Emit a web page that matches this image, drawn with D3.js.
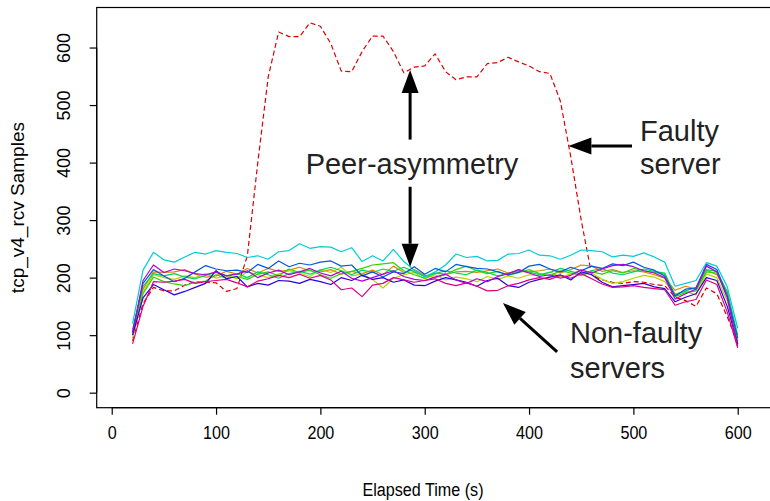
<!DOCTYPE html>
<html>
<head>
<meta charset="utf-8">
<script src="https://cdn.jsdelivr.net/npm/d3@7"></script>
<style>
body { margin: 0; background: #fff; }
text { font-family: "Liberation Sans", Arial, Helvetica, sans-serif; }
</style>
</head>
<body>
<svg id="chart" width="770" height="501"></svg>
<script>
// elapsed time of each sample (s)
var times = [20,30,40,50,60,70,80,90,100,110,120,130,140,150,160,170,180,190,200,210,
	220,230,240,250,260,270,280,290,300,310,320,330,340,350,360,370,380,390,400,410,
	420,430,440,450,460,470,480,490,500,510,520,530,540,550,560,570,580,590,600];

// faulty server (red dashed)
var faulty = [90,155,183,177,177,187,193,192,191,176,181,238,400,549,627,619,619,643,637,607,
	559,558,593,620,620,593,556,566,568,589,558,544,549,549,572,574,583,575,568,558,
	555,507,410,300,205,196,192,190,193,192,188,186,166,160,150,182,172,132,85];

// non-faulty servers
var s_orange = [100,180,210,209,210,214,206,201,203,211,206,216,208,216,211,213,218,212,210,214,
	206,211,207,213,205,220,209,214,204,200,205,210,211,209,212,215,208,211,210,212,
	215,208,214,222,220,211,214,209,212,210,205,199,178,185,180,213,205,176,90];
var s_ygreen = [95,175,205,200,197,203,200,207,199,204,198,210,205,200,206,212,208,202,214,209,
	218,203,206,197,182,199,205,209,198,205,196,201,198,193,202,197,203,199,205,203,
	210,201,206,214,208,197,190,193,199,204,201,193,172,176,170,206,200,160,92];
var s_green = [100,172,201,193,189,186,192,194,205,199,202,197,206,210,203,215,209,213,205,199,
	207,211,216,222,224,226,212,205,199,208,206,214,220,212,207,211,204,209,214,207,
	203,212,208,204,210,206,212,208,216,212,209,206,167,174,177,210,208,170,90];
var s_spring = [110,185,207,203,207,201,198,204,209,203,207,200,210,205,199,207,211,206,213,218,
	212,205,213,209,215,211,218,210,203,207,212,208,205,213,209,203,207,213,210,205,
	209,216,211,206,212,216,208,205,210,215,211,208,170,177,183,214,211,175,100];
var s_cyan = [120,213,244,231,227,236,244,241,247,244,242,235,238,232,245,247,259,251,254,253,
	245,252,228,238,229,249,228,213,201,210,222,241,235,237,229,230,241,242,248,239,
	238,232,239,248,247,245,236,239,237,243,236,227,185,190,195,226,220,184,112];
var s_blue = [105,190,214,203,193,199,210,221,215,212,213,209,223,216,229,219,225,222,227,229,
	220,222,203,210,201,210,207,219,206,216,210,223,219,216,215,210,205,209,220,223,
	215,210,218,212,220,216,224,221,227,218,213,203,168,180,182,223,214,168,95];
var s_violet = [100,165,188,179,170,176,183,190,212,198,202,184,190,187,195,194,190,197,193,188,
	200,195,204,197,200,192,196,187,186,194,200,196,192,185,195,199,186,183,192,197,
	201,205,196,210,205,192,184,186,188,190,184,181,158,166,172,200,195,150,85];
var s_purple = [105,195,222,209,215,212,207,205,210,203,206,212,200,208,213,205,210,216,208,203,
	211,199,194,200,206,212,202,197,195,201,206,196,190,198,193,202,207,214,208,202,
	205,199,204,213,208,215,221,223,219,212,208,200,163,172,180,220,210,165,80];
var s_pink = [85,150,193,192,194,197,190,193,195,197,191,184,194,198,204,200,206,199,204,196,
	179,182,167,187,190,200,196,192,195,198,190,186,191,185,177,178,186,190,196,200,
	197,204,199,207,198,189,183,184,186,183,181,179,152,158,162,196,188,140,78];

var xTicks = [0,100,200,300,400,500,600];
var yTicks = [0,100,200,300,400,500,600];

var series = [
	{name:'faulty', values:faulty, color:'#dd0000', dash:'5,3'},
	{name:'orange', values:s_orange, color:'#dd8400'},
	{name:'ygreen', values:s_ygreen, color:'#b1d400'},
	{name:'green', values:s_green, color:'#2cd400'},
	{name:'spring', values:s_spring, color:'#00d458'},
	{name:'cyan', values:s_cyan, color:'#00cdd4'},
	{name:'blue', values:s_blue, color:'#0058dd'},
	{name:'violet', values:s_violet, color:'#2c00dd'},
	{name:'purple', values:s_purple, color:'#b100dd'},
	{name:'pink', values:s_pink, color:'#dd0084'}
];

var svg = d3.select('#chart');
var fontAxis = '"Liberation Sans", Arial, sans-serif';

var x = d3.scaleLinear().domain([-14.4,634.4]).range([96.7,773.6]);
var y = d3.scaleLinear().domain([-26.1,669.6]).range([407.7,7.5]);

var line = d3.line()
	.x((d,i) => x(times[i]))
	.y(d => y(d));

var g = svg.append('g');

series.forEach(function(s){
	g.append('path')
		.attr('d', line(s.values))
		.attr('fill','none')
		.attr('stroke', s.color)
		.attr('stroke-width', 1.2)
		.attr('stroke-dasharray', s.dash || null)
		.attr('stroke-linejoin','round');
});

// box
svg.append('rect')
	.attr('x', x(-14.4)).attr('y', y(669.6))
	.attr('width', x(634.4) - x(-14.4) + 5)
	.attr('height', y(-26.1) - y(669.6))
	.attr('fill','none').attr('stroke','#000').attr('stroke-width',1.2);

// axes
var xaxis = svg.append('g')
	.attr('transform', `translate(0,${y(-26.1)})`)
	.call(d3.axisBottom(x).tickValues(xTicks).tickSize(7).tickPadding(11).tickFormat(d3.format('d')));
xaxis.select('.domain').remove();
xaxis.append('line').attr('x1', x(0)).attr('x2', x(600)).attr('stroke','#000').attr('stroke-width',1.2);
xaxis.selectAll('.tick line').attr('stroke-width',1.2);
xaxis.selectAll('text').attr('font-size',19).attr('fill','#000')
	.attr('transform','scale(0.85,1)')
	.style('font-family', fontAxis);

var yaxis = svg.append('g')
	.attr('transform', `translate(${x(-14.4)},0)`)
	.call(d3.axisLeft(y).tickValues(yTicks).tickSize(7).tickFormat(d3.format('d')));
yaxis.select('.domain').remove();
yaxis.append('line').attr('y1', y(0)).attr('y2', y(600)).attr('stroke','#000').attr('stroke-width',1.2);
yaxis.selectAll('.tick line').attr('stroke-width',1.2);
yaxis.selectAll('text')
	.attr('x', 0).attr('dy', 0)
	.attr('transform', 'translate(-27,0) rotate(-90)')
	.attr('text-anchor','middle')
	.attr('font-size',18).attr('fill','#000')
	.style('font-family', fontAxis);

// axis titles
svg.append('text')
	.attr('transform', 'translate(423,496) scale(0.85,1)')
	.attr('text-anchor','middle').attr('font-size',19)
	.text('Elapsed Time (s)');
svg.append('text')
	.attr('transform', `translate(24,${(y(-26.1)+y(669.6))/2}) rotate(-90)`)
	.attr('text-anchor','middle').attr('font-size',19)
	.text('tcp_v4_rcv Samples');

// annotations
function arrow(x1, y1, x2, y2){
	// tail (x1,y1) -> tip (x2,y2), in data units
	var ax = x(x1), ay = y(y1), bx = x(x2), by = y(y2);
	var dx = bx - ax, dy = by - ay, len = Math.sqrt(dx*dx + dy*dy);
	var ux = dx/len, uy = dy/len, hl = 23, hw = 8.5;
	var cx = bx - ux*hl, cy = by - uy*hl;
	svg.append('line')
		.attr('x1', ax).attr('y1', ay).attr('x2', cx).attr('y2', cy)
		.attr('stroke','#000').attr('stroke-width',3);
	svg.append('polygon')
		.attr('points', [[bx,by],[cx - uy*hw, cy + ux*hw],[cx + uy*hw, cy - ux*hw]].map(p => p.join(',')).join(' '))
		.attr('fill','#000');
}
arrow(286, 440, 286, 561);
arrow(286, 358, 286, 219);
arrow(498.7, 429, 437.7, 429);
arrow(426.9, 71, 375, 156);

var notes = [
	{t:'Peer-asymmetry', x:412, y:174, a:'middle'},
	{t:'Faulty', x:640, y:141, a:'start'},
	{t:'server', x:640, y:174, a:'start'},
	{t:'Non-faulty', x:570, y:343, a:'start'},
	{t:'servers', x:570, y:378, a:'start'}
];
svg.selectAll('text.note').data(notes).enter().append('text')
	.attr('class','note')
	.attr('x', d => d.x).attr('y', d => d.y)
	.attr('text-anchor', d => d.a)
	.attr('font-size', 29).attr('fill','#222')
	.text(d => d.t);
</script>
</body>
</html>
